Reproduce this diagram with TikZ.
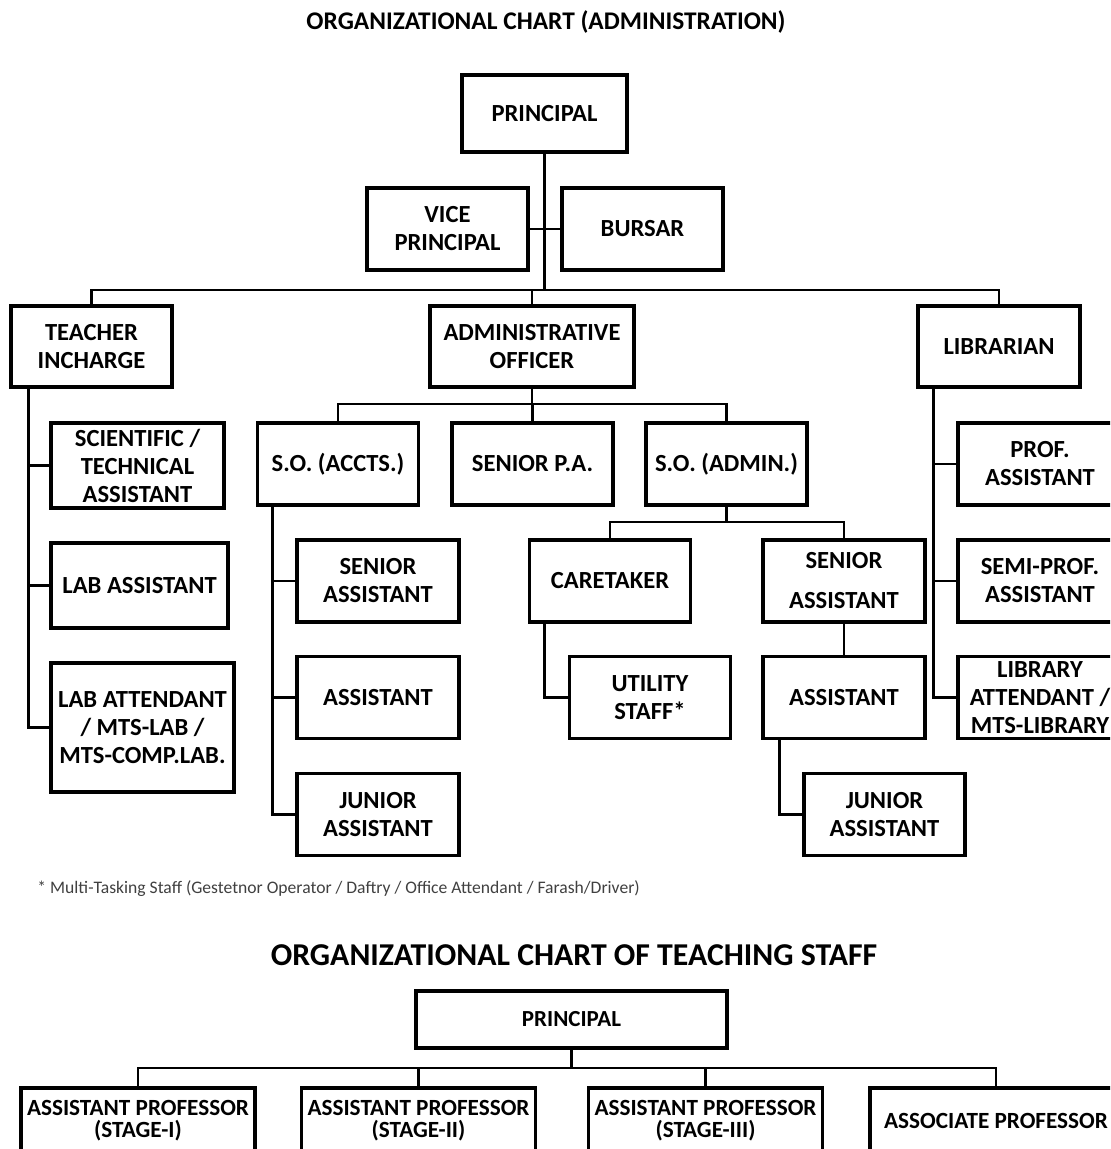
\documentclass[tikz,border=0pt]{standalone}
\usepackage{fontspec}
\setmainfont{Carlito}
\newcommand\branch[3]{% parent, spine offset, children
  \coordinate (#1sp) at ([xshift=#2]#1.south west);
  \foreach \c in {#3}
    \draw[link] (#1sp) |- (\c.west);
}
\begin{document}
\begin{tikzpicture}[x=0.5pt,y=-0.5pt]
  \tikzset{
    box/.style={draw,line width=1.6pt,align=center,inner sep=0pt,
      minimum width=80.5pt,minimum height=41pt,
      font=\bfseries\fontsize{12.3}{14}\selectfont},
    tbox/.style={box,minimum height=33pt,font=\bfseries\fontsize{11.6}{11}\selectfont},
    link/.style={line width=1.4pt},
    title/.style={font=\bfseries\fontsize{12.7}{15}\selectfont},
    note/.style={anchor=west,inner sep=0pt,text=black!75,font=\fontsize{8.8}{10}\selectfont},
  }
  \useasboundingbox (0,0) rectangle (1110,1149);
  \clip (0,0) rectangle (1110,1149);

  % administration
  \node [title] (t1) at (546,22) {ORGANIZATIONAL CHART (ADMINISTRATION)};
  \node [box,minimum width=82.5pt,minimum height=38.5pt] (pr) at (544.5,113.5) {PRINCIPAL};
  \node [box] (vp)   at (447.5,229) {VICE\\PRINCIPAL};
  \node [box] (bu)   at (642.5,229) {BURSAR};
  \node [box,minimum height=40.5pt] (ti) at (91.5,346.5) {TEACHER\\INCHARGE};
  \node [box,minimum width=102pt,minimum height=40.5pt] (ao) at (532,346.5) {ADMINISTRATIVE\\OFFICER};
  \node [box,minimum width=81pt,minimum height=40.5pt] (lib) at (999,346.5) {LIBRARIAN};

  \node [box,minimum width=86.5pt,minimum height=42.5pt] (sci)  at (137.5,465.5) {SCIENTIFIC /\\TECHNICAL\\ASSISTANT};
  \node [box,minimum width=88.5pt,minimum height=42.5pt] (las)  at (139.5,585.5) {LAB ASSISTANT};
  \node [box,minimum width=91.5pt,minimum height=64.5pt] (latt) at (142.5,727.5) {LAB ATTENDANT\\/ MTS-LAB /\\MTS-COMP.LAB.};

  \node [box] (soa)  at (338,464)   {S.O. (ACCTS.)};
  \node [box] (spa)  at (532.5,464) {SENIOR P.A.};
  \node [box] (soad) at (726.5,464) {S.O. (ADMIN.)};

  \node [box,minimum width=81pt] (sa1) at (378,581)   {SENIOR\\ASSISTANT};
  \node [box,minimum width=81pt] (as1) at (378,697.5) {ASSISTANT};
  \node [box,minimum width=81pt] (ja1) at (378,814.5) {JUNIOR\\ASSISTANT};

  \node [box] (ct) at (610,581) {CARETAKER};
  \node [box,minimum width=81pt] (sa2) at (844,581) {SENIOR\\[6pt]ASSISTANT};
  \node [box] (us) at (650,697.5) {UTILITY\\STAFF*};
  \node [box,minimum width=81pt] (as2) at (844,697.5) {ASSISTANT};
  \node [box] (ja2) at (884.5,814.5) {JUNIOR\\ASSISTANT};

  \node [box,minimum width=82pt] (pa) at (1040,464)   {PROF.\\ASSISTANT};
  \node [box,minimum width=82pt] (sp) at (1040,581)   {SEMI-PROF.\\ASSISTANT};
  \node [box,minimum width=82pt] (la) at (1040,697.5) {LIBRARY\\ATTENDANT /\\MTS-LIBRARY};

  \node [note] (fn) at (37,889) {* Multi-Tasking Staff (Gestetnor Operator / Daftry / Office Attendant / Farash/Driver)};

  \coordinate (hub) at (544.5,290);
  \draw[link] (pr.south) -- (hub);
  \draw[link] (vp.east) -- (bu.west);
  \draw[link] (ti.north) |- (hub) -| (lib.north);
  \draw[link] (ao.north) -- (ao.north |- hub);

  \coordinate (aohub) at (532,404);
  \draw[link] (ao.south) -- (aohub);
  \draw[link] (soa.north) |- (aohub) -| (soad.north);
  \draw[link] (spa.north) -- (spa.north |- aohub);

  \coordinate (sohub) at (726.5,522);
  \draw[link] (soad.south) -- (sohub);
  \draw[link] (ct.north) |- (sohub) -| (sa2.north);
  \draw[link] (sa2) -- (as2);

  \branch{ti}{9.5pt}{sci,las,latt}
  \branch{soa}{8.25pt}{sa1,as1,ja1}
  \branch{ct}{8.25pt}{us}
  \branch{as2}{9pt}{ja2}
  \branch{lib}{8.5pt}{pa,sp,la}

  % teaching staff
  \node [title,font=\bfseries\fontsize{15.9}{18}\selectfont] (t2) at (574,955) {ORGANIZATIONAL CHART OF TEACHING STAFF};
  \node [tbox,minimum width=155.5pt,minimum height=28.5pt,font=\bfseries\fontsize{11.5}{13}\selectfont] (tpr) at (571.5,1019.5) {PRINCIPAL};
  \node [tbox,minimum width=117pt] (st1) at (138,1121)   {ASSISTANT PROFESSOR\\(STAGE-I)};
  \node [tbox,minimum width=117pt] (st2) at (418.5,1121) {ASSISTANT PROFESSOR\\(STAGE-II)};
  \node [tbox,minimum width=117pt] (st3) at (705.5,1121) {ASSISTANT PROFESSOR\\(STAGE-III)};
  \node [tbox,minimum width=126pt] (aso) at (996,1121)   {ASSOCIATE PROFESSOR};

  \coordinate (thub) at (571.5,1068);
  \draw[link] (tpr.south) -- (thub);
  \draw[link] (st1.north) |- (thub) -| (aso.north);
  \draw[link] (st2.north) -- (st2.north |- thub);
  \draw[link] (st3.north) -- (st3.north |- thub);
\end{tikzpicture}
\end{document}
